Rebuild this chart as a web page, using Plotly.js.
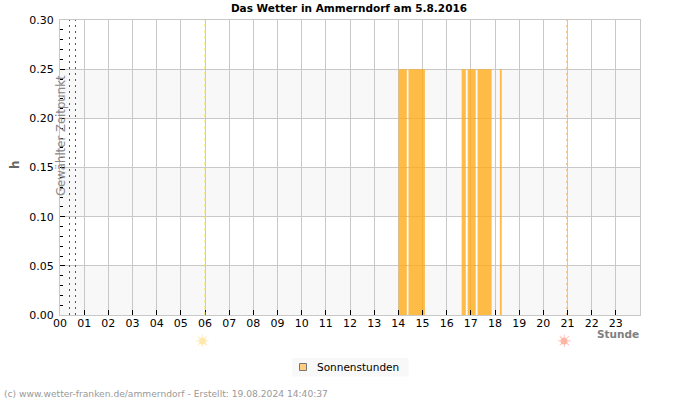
<!DOCTYPE html>
<html>
<head>
<meta charset="utf-8">
<script src="https://cdn.plot.ly/plotly-3.0.1.min.js"></script>
<style>html,body{margin:0;padding:0;background:#fff}</style>
</head>
<body>
<div id="chart" style="width:700px;height:400px"></div>
<script>
// Sunshine periods of the day: start and end in decimal hours, amount in h
const sunStart = [14.01, 14.42, 16.62, 16.87, 17.28, 18.20];
const sunEnd   = [14.35, 15.10, 16.79, 17.20, 17.86, 18.28];
const sunValue = [0.25, 0.25, 0.25, 0.25, 0.25, 0.25];

const hourTicks = ['00','01','02','03','04','05','06','07','08','09','10','11',
                   '12','13','14','15','16','17','18','19','20','21','22','23'];
const hourVals = hourTicks.map(Number);
const yTicks = [0, 0.05, 0.10, 0.15, 0.20, 0.25, 0.30];
const shadedBands = [[0, 0.05], [0.10, 0.15], [0.20, 0.25]];
const selectedTimes = [0.393, 0.641];
const sunrise = 6.0;
const sunset = 20.96;

const font = 'DejaVu Sans, sans-serif';
const plotLeft = 60, plotTop = 20, plotWidth = 580, plotHeight = 295;

// Page pixels to paper coordinates, for the items outside the plot area
const paperX = px => (px - plotLeft) / plotWidth;
const paperY = py => (plotTop + plotHeight - py) / plotHeight;

function vline(x, color, dash) {
  return {type: 'line', xref: 'x', yref: 'paper', x0: x, x1: x, y0: 0, y1: 1,
          layer: 'above', line: {color: color, width: 1, dash: dash}};
}

// Round sun disc placed at a time of day, below the hour labels
function sunDisc(x, color) {
  return {type: 'circle', xref: 'x', yref: 'paper', xsizemode: 'pixel', ysizemode: 'pixel',
          xanchor: x, yanchor: paperY(341), x0: -6, x1: 1, y0: -3.5, y1: 3.5,
          layer: 'above', line: {width: 0}, fillcolor: color};
}

// Rays around a sun disc
function sunRays(x, color) {
  return {xref: 'x', yref: 'paper', x: x, xshift: -2.5, y: paperY(341), text: '☀', showarrow: false,
          font: {family: font, size: 17, color: color}, xanchor: 'center', yanchor: 'middle'};
}

const shapes = shadedBands.map(b => ({
  type: 'rect', xref: 'paper', yref: 'y', x0: 0, x1: 1, y0: b[0], y1: b[1],
  layer: 'below', line: {width: 0}, fillcolor: '#f8f8f8'
}));
selectedTimes.forEach(t => shapes.push(vline(t, '#555555', '2px,4px')));
shapes.push(vline(sunrise, '#f8e820', '3px,3px'));
shapes.push(vline(sunset, '#ffc890', '2px,4px'));
shapes.push(sunDisc(sunrise, '#ffe9a8'));
shapes.push(sunDisc(sunset, '#ffb5a5'));

// Legend box and colour key
shapes.push({type: 'rect', xref: 'paper', yref: 'paper',
  x0: paperX(292), x1: paperX(408.5), y0: paperY(376.5), y1: paperY(358),
  layer: 'above', line: {width: 0}, fillcolor: '#f8f8f8'});
shapes.push({type: 'rect', xref: 'paper', yref: 'paper',
  x0: paperX(299.5), x1: paperX(306.5), y0: paperY(370.5), y1: paperY(363.5),
  layer: 'above', line: {width: 1, color: '#777777'}, fillcolor: '#ffcc80'});

const bars = {
  type: 'bar',
  name: 'Sonnenstunden',
  x: sunStart.map((s, i) => (s + sunEnd[i]) / 2),
  y: sunValue,
  width: sunStart.map((s, i) => sunEnd[i] - s),
  marker: {color: 'rgba(255,170,20,0.78)', line: {width: 0}},
  showlegend: false,
  hoverinfo: 'skip'
};

const layout = {
  width: 700, height: 400,
  margin: {l: plotLeft, r: 60, t: plotTop, b: 85, pad: 0, autoexpand: false},
  paper_bgcolor: '#ffffff',
  plot_bgcolor: '#ffffff',
  font: {family: font, size: 11, color: '#000000'},
  showlegend: false,
  title: {text: '<b>Das Wetter in Ammerndorf am 5.8.2016</b>',
          font: {family: font, size: 10.5, color: '#000000'},
          x: 349 / 700, xanchor: 'center', y: 0.98, yanchor: 'middle'},
  xaxis: {
    range: [0, 24], tickmode: 'array', tickvals: hourVals, ticktext: hourTicks,
    ticks: 'inside', ticklen: 5, tickcolor: '#000000', tickwidth: 1,
    ticklabelstandoff: -2,
    showgrid: true, gridcolor: '#c8c8c8', gridwidth: 1,
    showline: true, linecolor: '#c8c8c8', linewidth: 1, mirror: true,
    zeroline: false, tickangle: 0, tickfont: {family: font, size: 11}
  },
  yaxis: {
    range: [0, 0.30], tickmode: 'array', tickvals: yTicks,
    tickformat: '.2f',
    ticks: 'inside', ticklen: 5, tickcolor: '#000000', tickwidth: 1,
    ticklabelstandoff: 3,
    minor: {dtick: 0.01, ticks: 'inside', ticklen: 3, tickcolor: '#000000', tickwidth: 1, showgrid: false},
    showgrid: true, gridcolor: '#c8c8c8', gridwidth: 1,
    showline: true, linecolor: '#c8c8c8', linewidth: 1, mirror: true,
    zeroline: false, tickfont: {family: font, size: 11}
  },
  shapes: shapes,
  annotations: [
    {xref: 'paper', yref: 'paper', x: paperX(15), y: paperY(165), text: '<b>h</b>', showarrow: false,
     textangle: -90, font: {family: font, size: 12, color: '#666666'}, xanchor: 'center', yanchor: 'middle'},
    {xref: 'paper', yref: 'paper', x: paperX(61), y: paperY(136), text: 'Gewählter Zeitpunkt', showarrow: false,
     textangle: -90, font: {family: font, size: 11.7, color: '#888888'}, xanchor: 'center', yanchor: 'middle'},
    {xref: 'paper', yref: 'paper', x: paperX(641), y: paperY(334), text: '<b>Stunde</b>', showarrow: false,
     font: {family: font, size: 10.5, color: '#808080'}, xanchor: 'right', yanchor: 'middle'},
    {xref: 'paper', yref: 'paper', x: paperX(315), y: paperY(366.5), text: 'Sonnenstunden', showarrow: false,
     font: {family: font, size: 10.5, color: '#000000'}, xanchor: 'left', yanchor: 'middle'},
    {xref: 'paper', yref: 'paper', x: paperX(2), y: paperY(394),
     text: '(c) www.wetter-franken.de/ammerndorf - Erstellt: 19.08.2024 14:40:37', showarrow: false,
     font: {family: font, size: 9.15, color: '#999999'}, xanchor: 'left', yanchor: 'middle'},
    sunRays(sunrise, '#ffe9a8'),
    sunRays(sunset, '#ffb5a5')
  ]
};

Plotly.newPlot('chart', [bars], layout, {displayModeBar: false, staticPlot: true});
</script>
</body>
</html>
